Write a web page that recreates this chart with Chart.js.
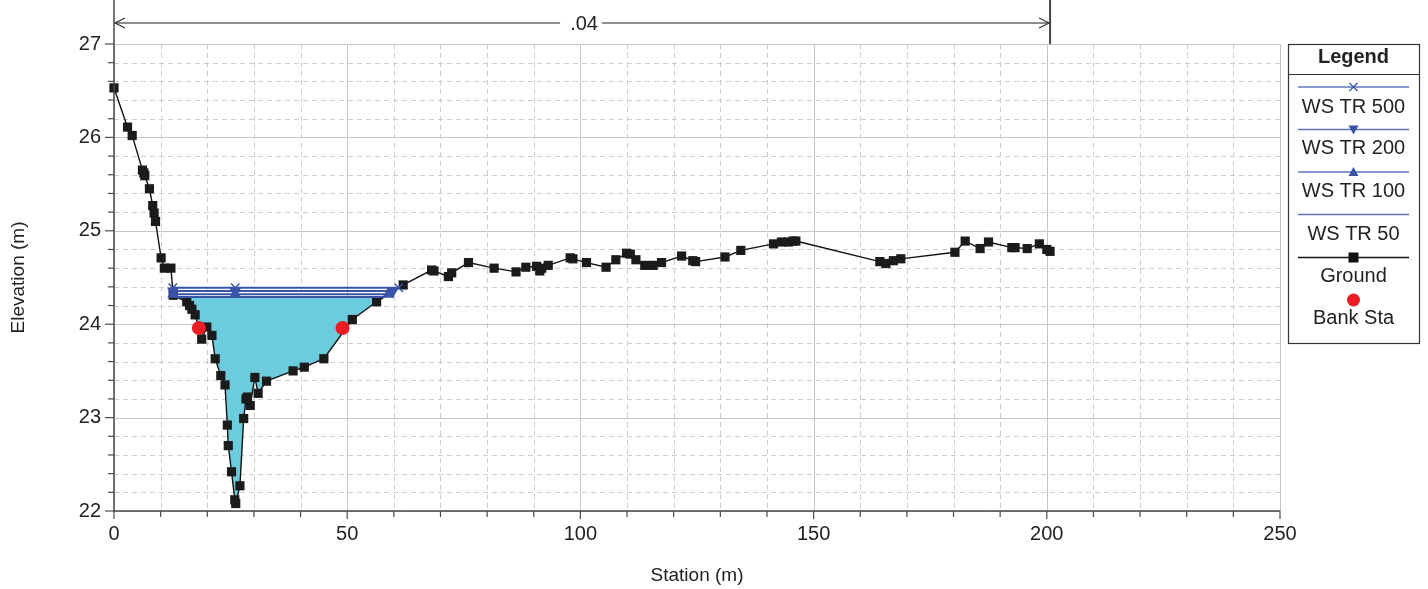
<!DOCTYPE html>
<html>
<head>
<meta charset="utf-8">
<script src="https://cdn.jsdelivr.net/npm/chart.js@4.4.1/dist/chart.umd.min.js"></script>
<style>
html, body { margin: 0; padding: 0; background: #fff; }
#wrap { width: 1428px; height: 589px; }
</style>
</head>
<body>
<div id="wrap"><canvas id="xs" width="1428" height="589"></canvas></div>
<script>
// cross section data
const groundSta = [0, 2.9, 3.9, 6.1, 6.4, 6.6, 7.6, 8.3, 8.6, 8.9, 10.1, 10.8, 12.2, 12.7, 15.6, 16.2, 16.7, 17.4,
  18.8, 19.9, 21.0, 21.7, 22.9, 23.8, 24.3, 24.5, 25.2, 25.9, 26.1, 27.0, 27.8, 28.3, 28.6, 29.2, 30.2, 30.9, 32.7,
  38.4, 40.8, 45.0, 51.1, 56.3, 62.0, 68.1, 68.6, 71.7, 72.4, 76.0, 81.5, 86.2, 88.3, 90.6, 91.3, 91.7, 93.1,
  97.8, 98.4, 101.3, 105.5, 107.6, 109.9, 110.7, 111.9, 113.8, 115.6, 117.4, 121.7, 124.1, 124.7, 131.0, 134.4,
  141.4, 143.1, 144.6, 145.6, 146.2, 164.2, 165.5, 167.1, 168.7, 180.3, 182.5, 185.7, 187.5, 192.5, 193.2,
  195.8, 198.4, 200.0, 200.7];
const groundElev = [26.53, 26.11, 26.02, 25.65, 25.62, 25.59, 25.45, 25.27, 25.19, 25.10, 24.71, 24.60, 24.60, 24.31, 24.24, 24.20, 24.16, 24.10,
  23.84, 23.97, 23.88, 23.63, 23.45, 23.35, 22.92, 22.70, 22.42, 22.12, 22.08, 22.27, 22.99, 23.20, 23.22, 23.13, 23.43, 23.26, 23.39,
  23.50, 23.54, 23.63, 24.05, 24.24, 24.42, 24.58, 24.57, 24.51, 24.55, 24.66, 24.60, 24.56, 24.61, 24.62, 24.57, 24.60, 24.63,
  24.71, 24.70, 24.66, 24.61, 24.69, 24.76, 24.75, 24.69, 24.63, 24.63, 24.66, 24.73, 24.68, 24.67, 24.72, 24.79,
  24.86, 24.88, 24.88, 24.89, 24.89, 24.67, 24.65, 24.68, 24.70, 24.77, 24.89, 24.81, 24.88, 24.82, 24.82,
  24.81, 24.86, 24.80, 24.78];
const bankSta = [18.2, 49.0];
const bankElev = [23.96, 23.96];
const wsNames = ['WS TR 500', 'WS TR 200', 'WS TR 100', 'WS TR 50'];
const wsElev = [24.39, 24.355, 24.32, 24.29];
const wsLeft = [12.6, 12.65, 12.7, 13.5];
const wsMid = [26, 26, 26, 26];
const wsRight = [61.05, 59.8, 58.8, 57.9];
const stationTicks = [0, 50, 100, 150, 200, 250];
const elevTicks = [22, 23, 24, 25, 26, 27];
const nValueLabel = '.04';

const FONT = '"Liberation Sans", Arial, sans-serif';
const BLUE = '#3a55a6';
const LEGEND_BLUE = '#5f74bf';
const RED = '#ec1c24';
const CYAN = '#6ccbdc';
const INK = '#222';

Chart.defaults.font.family = FONT;
Chart.defaults.color = INK;

const groundPts = groundSta.map((s, i) => ({ x: s, y: groundElev[i] }));

// wetted area of the lowest profile: water line then ground back to the left
const fillPts = [{ x: wsLeft[3], y: wsElev[3] }, { x: wsRight[3], y: wsElev[3] }];
for (let i = groundSta.length - 1; i >= 0; i--) {
  if (groundSta[i] > wsLeft[3] && groundSta[i] < wsRight[3]) fillPts.push({ x: groundSta[i], y: groundElev[i] });
}

const wsStyles = [
  { pointStyle: 'crossRot', radius: 6, rotation: 0 },
  { pointStyle: 'triangle', radius: 5.5, rotation: 180 },
  { pointStyle: 'triangle', radius: 5.5, rotation: 0 },
  { pointStyle: 'circle', radius: 0, rotation: 0 }
];

const wsSets = wsNames.map((name, i) => ({
  label: name,
  data: [{ x: wsLeft[i], y: wsElev[i] }, { x: wsMid[i], y: wsElev[i] }, { x: wsRight[i], y: wsElev[i] }],
  borderColor: BLUE,
  backgroundColor: BLUE,
  borderWidth: 2,
  pointStyle: wsStyles[i].pointStyle,
  pointRadius: wsStyles[i].radius,
  pointRotation: wsStyles[i].rotation,
  pointBorderWidth: 1.5,
  order: 1 + i
}));

const frame = {
  id: 'frame',
  beforeDatasetsDraw(chart) {
    const { ctx, chartArea: a, scales: { x, y } } = chart;
    ctx.save();
    ctx.lineWidth = 1;
    for (let v = 0; v <= 250; v += 10) {
      const px = Math.round(x.getPixelForValue(v)) + 0.5;
      const major = v % 50 === 0;
      ctx.strokeStyle = major ? '#c6c6c6' : '#cdcdcd';
      ctx.setLineDash(major ? [] : [5, 4]);
      ctx.beginPath(); ctx.moveTo(px, a.top); ctx.lineTo(px, a.bottom); ctx.stroke();
    }
    for (let k = 0; k <= 25; k++) {
      const v = 22 + k * 0.2;
      const py = Math.round(y.getPixelForValue(v)) + 0.5;
      const major = k % 5 === 0;
      ctx.strokeStyle = major ? '#c6c6c6' : '#cdcdcd';
      ctx.setLineDash(major ? [] : [5, 4]);
      ctx.beginPath(); ctx.moveTo(a.left, py); ctx.lineTo(a.right, py); ctx.stroke();
    }
    ctx.restore();
  },
  afterDatasetsDraw(chart) {
    const { ctx, chartArea: a, scales: { x, y } } = chart;
    ctx.save();
    ctx.strokeStyle = '#4a4a4a';
    ctx.lineWidth = 1.5;
    ctx.beginPath();
    ctx.moveTo(a.left, 0); ctx.lineTo(a.left, a.bottom); ctx.lineTo(a.right, a.bottom);
    ctx.stroke();
    ctx.lineWidth = 1.2;
    for (let v = 0; v <= 250; v += 10) {
      const px = x.getPixelForValue(v);
      const len = v % 50 === 0 ? 8 : 6;
      ctx.beginPath(); ctx.moveTo(px, a.bottom); ctx.lineTo(px, a.bottom + len); ctx.stroke();
    }
    for (let k = 0; k <= 25; k++) {
      const py = y.getPixelForValue(22 + k * 0.2);
      const len = k % 5 === 0 ? 9 : 6;
      ctx.beginPath(); ctx.moveTo(a.left, py); ctx.lineTo(a.left - len, py); ctx.stroke();
    }

    // roughness dimension line along the top
    const x0 = x.getPixelForValue(groundSta[0]);
    const x1 = x.getPixelForValue(groundSta[groundSta.length - 1]);
    const yd = 23;
    const xm = (x0 + x1) / 2;
    ctx.font = '20px ' + FONT;
    const tw = ctx.measureText(nValueLabel).width;
    ctx.strokeStyle = '#6a6a6a';
    ctx.lineWidth = 1.5;
    ctx.beginPath();
    ctx.moveTo(x0, yd); ctx.lineTo(xm - tw / 2 - 8, yd);
    ctx.moveTo(xm + tw / 2 + 6, yd); ctx.lineTo(x1, yd);
    ctx.stroke();
    ctx.strokeStyle = '#333';
    ctx.lineWidth = 1.2;
    ctx.beginPath();
    ctx.moveTo(x0 + 11, yd - 5); ctx.lineTo(x0 + 1, yd); ctx.lineTo(x0 + 11, yd + 5);
    ctx.moveTo(x1 - 11, yd - 5); ctx.lineTo(x1 - 1, yd); ctx.lineTo(x1 - 11, yd + 5);
    ctx.stroke();
    ctx.strokeStyle = '#444';
    ctx.lineWidth = 2;
    ctx.beginPath(); ctx.moveTo(x1, 0); ctx.lineTo(x1, a.top); ctx.stroke();
    ctx.fillStyle = INK;
    ctx.textAlign = 'center';
    ctx.textBaseline = 'middle';
    ctx.fillText(nValueLabel, xm + 2, yd + 1);
    ctx.restore();
  },
  afterDraw(chart) {
    const ctx = chart.ctx;
    const L = 1288, R = 1419, T = 44, B = 343, cx = (L + R) / 2;
    ctx.save();
    ctx.strokeStyle = '#333';
    ctx.lineWidth = 1.2;
    ctx.strokeRect(L + 0.5, T + 0.5, R - L, B - T);
    ctx.beginPath(); ctx.moveTo(L, 74.5); ctx.lineTo(R, 74.5); ctx.stroke();
    ctx.fillStyle = INK;
    ctx.textAlign = 'center';
    ctx.textBaseline = 'middle';
    ctx.font = 'bold 20px ' + FONT;
    ctx.fillText('Legend', cx, 57);
    ctx.font = '20px ' + FONT;
    const rows = [
      { label: wsNames[0], ly: 87, ty: 107 },
      { label: wsNames[1], ly: 129.5, ty: 148 },
      { label: wsNames[2], ly: 172, ty: 191 },
      { label: wsNames[3], ly: 214.5, ty: 234 },
      { label: 'Ground', ly: 257.5, ty: 276 },
      { label: 'Bank Sta', ly: 300, ty: 318 }
    ];
    rows.forEach((r, i) => {
      if (i < 5) {
        ctx.strokeStyle = i < 4 ? LEGEND_BLUE : '#111';
        ctx.lineWidth = i < 4 ? 1.6 : 1.4;
        ctx.beginPath(); ctx.moveTo(1298, r.ly); ctx.lineTo(1409, r.ly); ctx.stroke();
      }
      ctx.fillStyle = BLUE;
      ctx.strokeStyle = BLUE;
      if (i === 0) {
        ctx.lineWidth = 1.3;
        ctx.beginPath();
        ctx.moveTo(cx - 4, r.ly - 4); ctx.lineTo(cx + 4, r.ly + 4);
        ctx.moveTo(cx + 4, r.ly - 4); ctx.lineTo(cx - 4, r.ly + 4);
        ctx.stroke();
      } else if (i === 1) {
        ctx.beginPath(); ctx.moveTo(cx - 5, r.ly - 4); ctx.lineTo(cx + 5, r.ly - 4); ctx.lineTo(cx, r.ly + 5); ctx.fill();
      } else if (i === 2) {
        ctx.beginPath(); ctx.moveTo(cx - 5, r.ly + 4); ctx.lineTo(cx + 5, r.ly + 4); ctx.lineTo(cx, r.ly - 5); ctx.fill();
      } else if (i === 4) {
        ctx.fillStyle = '#111';
        ctx.fillRect(cx - 5, r.ly - 5, 10, 10);
      } else if (i === 5) {
        ctx.fillStyle = RED;
        ctx.beginPath(); ctx.arc(cx, r.ly, 6.5, 0, Math.PI * 2); ctx.fill();
      }
      ctx.fillStyle = INK;
      ctx.fillText(r.label, cx, r.ty);
    });
    ctx.restore();
  }
};

new Chart(document.getElementById('xs'), {
  type: 'line',
  data: {
    datasets: [
      {
        label: 'Bank Sta',
        data: bankSta.map((s, i) => ({ x: s, y: bankElev[i] })),
        showLine: false,
        pointStyle: 'circle',
        pointRadius: 7,
        pointBackgroundColor: RED,
        pointBorderColor: RED,
        pointBorderWidth: 0,
        order: 0
      },
      ...wsSets,
      {
        label: 'Ground',
        data: groundPts,
        borderColor: '#111',
        borderWidth: 1.4,
        pointStyle: 'rect',
        pointRadius: 6.5,
        pointBackgroundColor: '#1b1b1b',
        pointBorderWidth: 0,
        clip: false,
        order: 5
      },
      {
        label: 'area',
        data: fillPts,
        borderWidth: 0,
        borderColor: 'rgba(0,0,0,0)',
        backgroundColor: CYAN,
        fill: 'shape',
        pointRadius: 0,
        order: 6
      }
    ]
  },
  options: {
    responsive: false,
    animation: false,
    events: [],
    layout: { padding: { top: 44, right: 148, left: 0, bottom: 0 } },
    plugins: { legend: { display: false }, tooltip: { enabled: false } },
    scales: {
      x: {
        type: 'linear',
        min: 0,
        max: 250,
        afterBuildTicks: s => { s.ticks = stationTicks.map(v => ({ value: v })); },
        afterFit: s => { s.height = 78; },
        grid: { display: false, drawTicks: false },
        border: { display: false },
        ticks: { font: { size: 20 }, padding: 11, maxRotation: 0, color: INK },
        title: { display: true, text: 'Station (m)', font: { size: 19 }, padding: { top: 0, bottom: 2 }, color: INK }
      },
      y: {
        type: 'linear',
        min: 22,
        max: 27,
        afterBuildTicks: s => { s.ticks = elevTicks.map(v => ({ value: v })); },
        afterFit: s => { s.width = 114; },
        grid: { display: false, drawTicks: false },
        border: { display: false },
        ticks: { font: { size: 20 }, padding: 13, color: INK },
        title: { display: true, text: 'Elevation (m)', font: { size: 19 }, padding: { top: 7, bottom: 0 }, color: INK }
      }
    }
  },
  plugins: [frame]
});
</script>
</body>
</html>
